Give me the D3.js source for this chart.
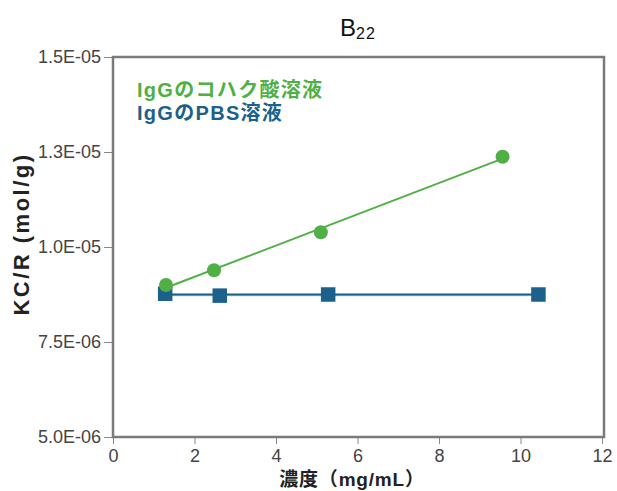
<!DOCTYPE html>
<html><head><meta charset="utf-8">
<script src="https://cdn.jsdelivr.net/npm/d3@7/dist/d3.min.js"></script>
<style>body{margin:0;background:#fff}svg{display:block}</style>
</head><body><svg id="c" width="617" height="491"></svg>
<script>
const seriesNames = ["IgGのコハク酸溶液", "IgGのPBS溶液"];
const succinateX = [1.3, 2.48, 5.1, 9.56];
const succinateY = [9.0e-6, 9.39e-6, 1.039e-5, 1.2376e-5];
const pbsX = [1.28, 2.62, 5.28, 10.44];
const pbsY = [8.77e-6, 8.72e-6, 8.75e-6, 8.75e-6];
const xTicks = [0, 2, 4, 6, 8, 10, 12];
const yTicks = [5e-6, 7.5e-6, 1e-5, 1.25e-5, 1.5e-5];
const yTickLabels = ["5.0E-06", "7.5E-06", "1.0E-05", "1.3E-05", "1.5E-05"];

const green = "#50b046", blue = "#1b618b";
const font = "'Liberation Sans', 'Noto Sans CJK JP', sans-serif";
const svg = d3.select("#c");
const L = 113, R = 604, T = 57, B = 437;
const x = d3.scaleLinear().domain([0, 12]).range([L, L + 12 * 40.75]);
const y = d3.scaleLinear().domain([5e-6, 1.5e-5]).range([B, T]);

// title
const title = svg.append("text").attr("x", 358).attr("y", 36).attr("text-anchor", "middle")
  .attr("font-family", font).attr("font-size", 24).attr("fill", "#111");
title.append("tspan").text("B");
title.append("tspan").attr("font-size", 16).attr("letter-spacing", 1).attr("dy", 3).text("22");

// axes
const ya = svg.append("g").attr("transform", `translate(${L},0)`)
  .call(d3.axisLeft(y).tickValues(yTicks).tickSize(9).tickPadding(3)
    .tickFormat((d, i) => yTickLabels[i]));
const xa = svg.append("g").attr("transform", `translate(0,${B})`)
  .call(d3.axisBottom(x).tickValues(xTicks).tickSize(7).tickPadding(5));
[ya, xa].forEach(g => {
  g.select(".domain").remove();
  g.selectAll(".tick line").attr("stroke", "#888");
  g.selectAll("text").attr("font-family", font).attr("font-size", 18).attr("fill", "#444");
});

// frame
svg.append("rect").attr("x", L).attr("y", T).attr("width", R - L).attr("height", B - T)
  .attr("fill", "none").attr("stroke", "#7a7a7a").attr("stroke-width", 2.5);

// fit lines
function fit(xs, ys) {
  const mx = d3.mean(xs), my = d3.mean(ys);
  const sxy = d3.sum(xs, (v, i) => (v - mx) * (ys[i] - my));
  const sxx = d3.sum(xs, v => (v - mx) ** 2);
  const b = sxy / sxx, a = my - b * mx;
  const x0 = d3.min(xs), x1 = d3.max(xs);
  return [[x0, a + b * x0], [x1, a + b * x1]];
}
const line = d3.line().x(d => x(d[0])).y(d => y(d[1]));
svg.append("path").attr("d", line(fit(pbsX, pbsY))).attr("stroke", "#a9c6d8").attr("stroke-width", 3.2).attr("fill", "none");
svg.append("path").attr("d", line(fit(pbsX, pbsY))).attr("stroke", blue).attr("stroke-width", 1.6).attr("fill", "none");
svg.append("path").attr("d", line(fit(succinateX, succinateY))).attr("stroke", green).attr("stroke-width", 2).attr("fill", "none");

// markers
const s = 14.5;
svg.selectAll(".sq").data(pbsX.map((v, i) => [v, pbsY[i]])).join("rect")
  .attr("x", d => x(d[0]) - s / 2).attr("y", d => y(d[1]) - s / 2)
  .attr("width", s).attr("height", s).attr("fill", blue);
svg.selectAll(".ci").data(succinateX.map((v, i) => [v, succinateY[i]])).join("circle")
  .attr("cx", d => x(d[0])).attr("cy", d => y(d[1])).attr("r", 7).attr("fill", green);

// legend
svg.append("text").attr("x", 137).attr("y", 97).attr("font-family", font).attr("font-weight", "bold")
  .attr("font-size", 20).attr("letter-spacing", 1.3).attr("fill", green).text(seriesNames[0]);
svg.append("text").attr("x", 137).attr("y", 120).attr("font-family", font).attr("font-weight", "bold")
  .attr("font-size", 20).attr("letter-spacing", 1.3).attr("fill", blue).text(seriesNames[1]);

// axis titles
svg.append("text").attr("transform", "translate(29,234) rotate(-90)").attr("text-anchor", "middle")
  .attr("font-family", font).attr("font-weight", "bold").attr("font-size", 22).attr("letter-spacing", 2.5)
  .attr("fill", "#222").text("KC/R (mol/g)");
svg.append("text").attr("x", 352).attr("y", 486).attr("text-anchor", "middle")
  .attr("font-family", font).attr("font-weight", "bold").attr("font-size", 19).attr("letter-spacing", 0.8)
  .attr("fill", "#222").text("濃度（mg/mL）");
</script></body></html>
